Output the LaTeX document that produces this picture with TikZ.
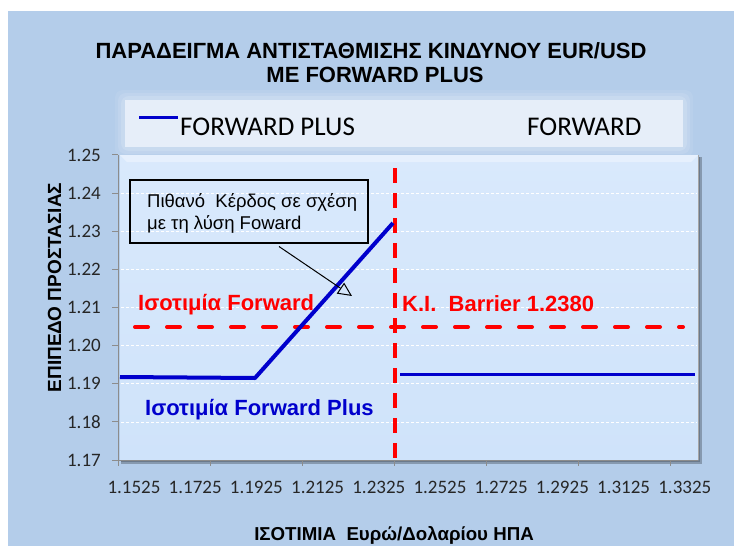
\documentclass[tikz,border=0pt]{standalone}
\usepackage{fontspec}
\setmainfont{Liberation Sans}
\newfontfamily\calib{Carlito}
\usetikzlibrary{arrows.meta}
\definecolor{bgblue}{HTML}{B4CDEA}
\definecolor{plotA}{HTML}{D9E9FC}
\definecolor{plotB}{HTML}{CFE3FA}
\definecolor{legfill}{HTML}{E6EEF9}
\definecolor{lineblue}{HTML}{0000CC}
\definecolor{axgray}{HTML}{8C8C8C}
\definecolor{redd}{HTML}{FF0000}
\tikzset{
  ticklab/.style={font=\calib\fontsize{19}{22}\selectfont, inner sep=0pt, text=black!85},
  axtitle/.style={font=\bfseries\fontsize{18.7}{21}\selectfont, inner sep=0pt},
  titletext/.style={font=\bfseries\fontsize{22}{25}\selectfont, inner sep=0pt},
  legtext/.style={font=\calib\fontsize{27}{30}\selectfont, inner sep=0pt},
  redlab/.style={font=\bfseries\fontsize{22}{26}\selectfont, text=redd, inner sep=0pt},
  bluelab/.style={font=\bfseries\fontsize{22}{26}\selectfont, text=lineblue, inner sep=0pt},
  notetext/.style={font=\fontsize{18.5}{22}\selectfont, inner sep=0pt, align=left, anchor=base west},
  grid/.style={white, line width=0.8pt, dash pattern=on 3pt off 2pt},
  axis/.style={axgray, line width=1pt},
  series/.style={lineblue, line width=4pt, line join=round},
}
\begin{document}
\begin{tikzpicture}[x=1pt,y=-1pt]
\useasboundingbox (0,0) rectangle (734,546);
% background
\fill[white] (0,0) rectangle (734,546);
\fill[bgblue] (8,11) rectangle (734,546);
% legend glow
\foreach \g/\o in {10/0.08,7/0.10,4/0.14}{
  \fill[white, opacity=\o, rounded corners=8pt] (125-\g,100-\g) rectangle (683+\g,147+\g);
}
\fill[legfill] (125,100) rectangle (683,147);
\coordinate (ls1) at (139,117);
\coordinate (ls2) at (178,117);
\draw[lineblue, line width=3pt] (ls1) -- (ls2);
\node[legtext, anchor=base west] (legFP) at (180,135) {FORWARD PLUS};
\node[legtext, anchor=base west] (legF) at (527,135) {FORWARD};
% title
\node[titletext, anchor=base] (title1) at (371,58) {ΠΑΡΑΔΕΙΓΜΑ ΑΝΤΙΣΤΑΘΜΙΣΗΣ ΚΙΝΔΥΝΟΥ EUR/USD};
\node[titletext, anchor=base] (title2) at (375,82) {ME FORWARD PLUS};
% plot area with shadow
\fill[black, opacity=0.25] (121,157) rectangle (702,464);
\fill[black, opacity=0.2] (121,157) rectangle (700,462);
\shade[top color=plotA, bottom color=plotB] (120,155) rectangle (698,460);
\fill[white, opacity=0.35] (120,155) -- (698,155) -- (691,162) -- (127,162) -- cycle;
\draw[gray!70, line width=0.8pt] (698,155) -- (698,460);
% gridlines
\foreach \v in {1.18,1.19,1.20,1.21,1.22,1.23,1.24}{
  \pgfmathsetmacro{\yy}{460-(\v-1.17)*3812.5}
  \draw[grid] (121,\yy) -- (697,\yy);
}
% axes
\coordinate (yaxTop) at (118,155);
\coordinate (yaxBot) at (118,466);
\coordinate (xaxL) at (112,460);
\coordinate (xaxR) at (698,460);
\draw[axis] (yaxTop) -- (yaxBot);
\draw[axis] (xaxL) -- (xaxR);
\foreach \v in {1.17,1.18,1.19,1.20,1.21,1.22,1.23,1.24,1.25}{
  \pgfmathsetmacro{\yy}{460-(\v-1.17)*3812.5}
  \draw[axis] (112,\yy) -- (118,\yy);
  \node[ticklab, anchor=east] at (101,\yy) {\v};
}
\foreach \xx in {210,302,394,486,578,670}{
  \draw[axis] (\xx,460) -- (\xx,466);
}
\foreach \lab [count=\i from 0] in {1.1525,1.1725,1.1925,1.2125,1.2325,1.2525,1.2725,1.2925,1.3125,1.3325}{
  \pgfmathsetmacro{\xx}{134+61.2*\i}
  \node[ticklab, anchor=base] at (\xx,493) {\lab};
}
% axis titles
\node[axtitle, anchor=base] (xtitle) at (394,540) {ΙΣΟΤΙΜΙΑ\ \ Ευρώ/Δολαρίου ΗΠΑ};
\node[axtitle, font=\bfseries\fontsize{19}{22}\selectfont, rotate=90, anchor=base] (ytitle) at (61,287.5) {ΕΠΙΠΕΔΟ ΠΡΟΣΤΑΣΙΑΣ};
% red dashed lines
\coordinate (hL) at (135,327);
\coordinate (hR) at (683,327);
\draw[redd, line width=4pt, line cap=round, dash pattern=on 13pt off 19pt] (hL) -- (hR);
\coordinate (vT) at (395,168);
\coordinate (vB) at (395,466);
\draw[redd, line width=3.3pt, dash pattern=on 15pt off 10pt] (vT) -- (vB);
% series
\coordinate (s1) at (120,377);
\coordinate (s2) at (255,378);
\coordinate (s3) at (393,223);
\coordinate (s4) at (400,374);
\coordinate (s5) at (695,374);
\draw[series] (s1) -- (s2) -- (s3);
\draw[series, line width=3pt] (s4) -- (s5);
% labels
\node[redlab, anchor=base west] (fwdlab) at (138,310) {Ισοτιμία Forward};
\node[redlab, anchor=base west] (kilab) at (402,311) {K.I.\ \ Barrier 1.2380};
\node[bluelab, anchor=base west] (fplab) at (145,415) {Ισοτιμία Forward Plus};
% annotation
\node[draw=black, line width=1.5pt, minimum width=238pt, minimum height=63pt, anchor=north west, inner sep=0pt] (note) at (129,179) {};
\node[notetext] (note1) at (147,207) {Πιθανό\ \ Κέρδος σε σχέση};
\node[notetext] (note2) at (147,229) {με τη λύση Foward};
\coordinate (tip) at (352,296);
\draw[black, line width=1pt, -{Triangle[open, length=14pt, width=13pt]}] (note.south west) ++(150,3) coordinate (cs) (cs) -- (tip);
\end{tikzpicture}
\end{document}
